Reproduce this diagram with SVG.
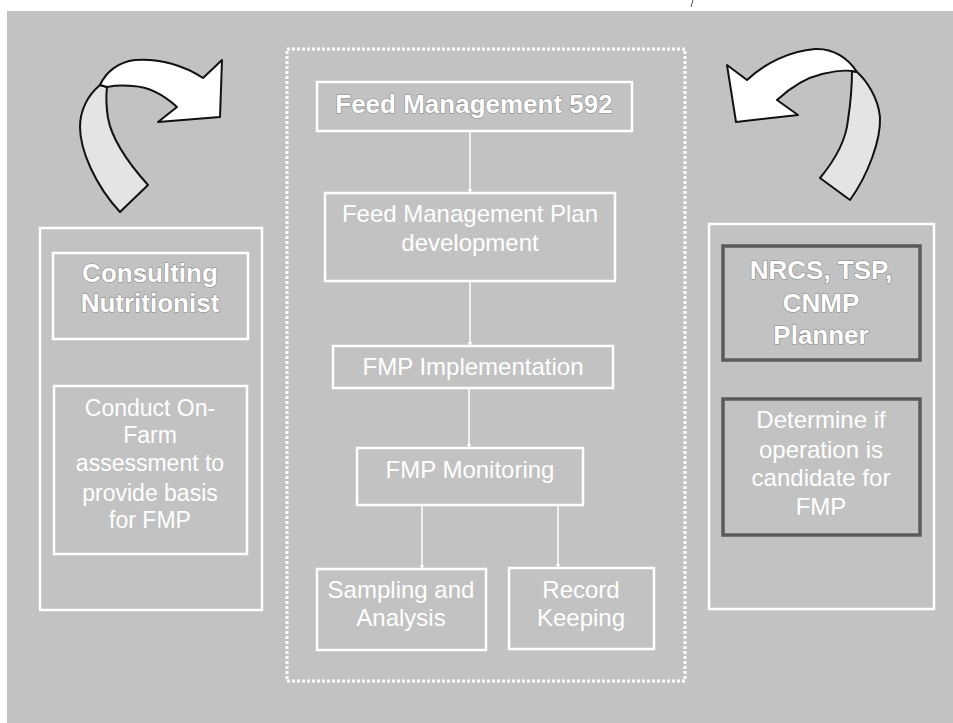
<svg xmlns="http://www.w3.org/2000/svg" width="953" height="723" viewBox="0 0 953 723">
<defs>
<style>
.box{fill:none;stroke:#ffffff;stroke-width:2.5}
.dark{fill:none;stroke:#5a5a5a;stroke-width:3.5}
.t{font-family:"Liberation Sans",Arial,sans-serif;fill:#ffffff;text-anchor:middle;font-size:24px}
.b{font-weight:bold;font-size:26px;stroke:#8a8a8a;stroke-width:1.2;paint-order:stroke}
.con{stroke:#ffffff;stroke-width:1.5;fill:none;marker-end:url(#ah)}
.front{fill:#ffffff;stroke:#111;stroke-width:2;stroke-linejoin:round}
.back{fill:#e4e4e4;stroke:#111;stroke-width:2;stroke-linejoin:round}
</style>
<marker id="ah" viewBox="0 0 10 10" refX="9" refY="5" markerWidth="5" markerHeight="5" orient="auto" markerUnits="userSpaceOnUse">
<path d="M0,0 L10,5 L0,10 z" fill="#ffffff"/>
</marker>
</defs>
<rect x="0" y="0" width="953" height="723" fill="#ffffff"/>
<rect x="7" y="11" width="946" height="712" fill="#c2c2c2"/>
<line x1="693" y1="0" x2="691" y2="7" stroke="#555" stroke-width="1"/>

<g id="left-arrow">
<path class="back" d="M100,85 C88,95 80,110 80,127 C80,150 95,185 120,212 L148,185 C130,165 112,140 108,118 C106,105 106,95 107,87 Z"/>
<path class="front" d="M100,85 C106,72 118,62 135,60 C160,58 185,66 203,78 L222,60 L220,117 L158,122 L177,107 C165,96 150,87 133,86 C122,85 112,86 107,87 Z"/>
</g>
<g id="right-arrow">
<path class="back" d="M857,72 C866,80 878,97 880,117 C881,140 868,175 850,200 L820,178 C835,160 846,140 848,120 C851,100 852,85 852,71 Z"/>
<path class="front" d="M857,72 C848,58 833,48 815,49 C790,51 765,63 747,80 L727,65 L736,122 L798,115 L777,100 C790,88 805,78 822,74 C835,71 845,70 852,71 Z"/>
</g>

<g id="center-frame">
<rect x="287" y="49" width="398" height="632" fill="none" stroke="#ffffff" stroke-width="3" stroke-dasharray="3,2"/>
</g>

<g id="left-panel">
<rect class="box" x="40" y="228" width="222" height="382" stroke-width="1.5"/>
</g>
<g id="consulting-nutritionist">
<rect class="box" x="53" y="253" width="195" height="86"/>
<text class="t b" x="150" y="282">Consulting</text>
<text class="t b" x="150" y="312">Nutritionist</text>
</g>
<g id="conduct-assessment">
<rect class="box" x="54" y="386" width="193" height="168"/>
<text class="t" font-size="23" x="150" y="416" style="font-size:23px">Conduct On-</text>
<text class="t" x="150" y="443" style="font-size:23px">Farm</text>
<text class="t" x="150" y="471" style="font-size:23px">assessment to</text>
<text class="t" x="150" y="501" style="font-size:23px">provide basis</text>
<text class="t" x="150" y="528" style="font-size:23px">for FMP</text>
</g>

<g id="right-panel">
<rect class="box" x="709" y="224" width="225" height="385" stroke-width="1.5"/>
</g>
<g id="nrcs-planner">
<rect class="dark" x="723" y="246" width="197" height="114"/>
<text class="t b" x="821" y="279">NRCS, TSP,</text>
<text class="t b" x="821" y="312">CNMP</text>
<text class="t b" x="821" y="344">Planner</text>
</g>
<g id="determine-candidate">
<rect class="dark" x="723" y="399" width="197" height="136"/>
<text class="t" x="821" y="428">Determine if</text>
<text class="t" x="821" y="458">operation is</text>
<text class="t" x="821" y="486">candidate for</text>
<text class="t" x="821" y="515">FMP</text>
</g>

<g id="feed-management-592">
<rect class="box" x="317" y="82" width="315" height="49"/>
<text class="t b" x="474" y="113">Feed Management 592</text>
</g>
<g id="fmp-development">
<rect class="box" x="325" y="193" width="290" height="88"/>
<text class="t" x="470" y="222">Feed Management Plan</text>
<text class="t" x="470" y="251">development</text>
</g>
<g id="fmp-implementation">
<rect class="box" x="333" y="346" width="280" height="42"/>
<text class="t" x="473" y="375">FMP Implementation</text>
</g>
<g id="fmp-monitoring">
<rect class="box" x="357" y="448" width="226" height="57"/>
<text class="t" x="470" y="478">FMP Monitoring</text>
</g>
<g id="sampling-analysis">
<rect class="box" x="317" y="569" width="169" height="81"/>
<text class="t" x="401" y="598">Sampling and</text>
<text class="t" x="401" y="626">Analysis</text>
</g>
<g id="record-keeping">
<rect class="box" x="509" y="568" width="145" height="81"/>
<text class="t" x="581" y="598">Record</text>
<text class="t" x="581" y="626">Keeping</text>
</g>

<g id="connectors">
<line class="con" x1="470" y1="131" x2="470" y2="193"/>
<line class="con" x1="470" y1="281" x2="470" y2="346"/>
<line class="con" x1="469" y1="388" x2="469" y2="448"/>
<line class="con" x1="422" y1="505" x2="422" y2="569"/>
<line class="con" x1="558" y1="505" x2="558" y2="568"/>
</g>
</svg>
